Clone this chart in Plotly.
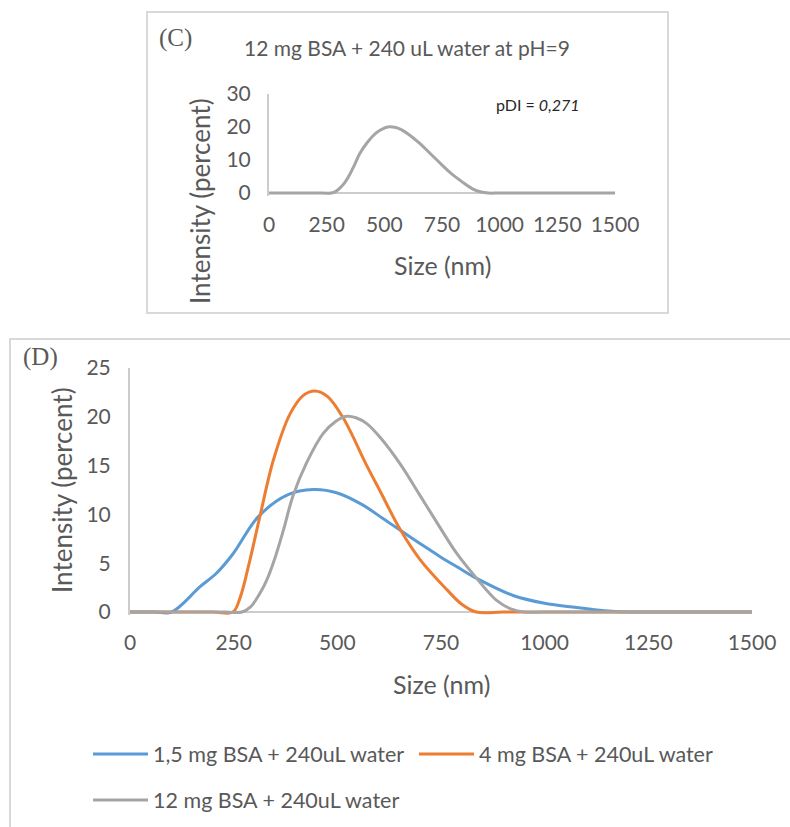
import plotly.graph_objects as go

# ---------------- data ----------------
size_ticks = [0, 250, 500, 750, 1000, 1250, 1500]
c_y_ticks = [0, 10, 20, 30]
d_y_ticks = [0, 5, 10, 15, 20, 25]

blue_name = "1,5 mg BSA + 240uL water"
blue_size = [0, 60, 100, 169, 209, 249, 309, 380, 442, 500, 560, 611, 651, 700, 747, 790,
             836, 924, 1000, 1061, 1170, 1250, 1500]
blue_int = [0, 0, 0, 2.6, 4.0, 6.0, 9.75, 12.0, 12.55, 12.2, 11.0, 9.55, 8.4, 7.0, 5.7, 4.6,
            3.45, 1.7, 0.9, 0.55, 0.05, 0, 0]

orange_name = "4 mg BSA + 240uL water"
orange_size = [0, 200, 248, 265, 289, 313, 346, 386, 418, 446, 476, 514, 571, 603, 651, 699,
               764, 800, 835, 900, 1000, 1500]
orange_int = [0, 0, 0, 1.4, 5.3, 9.75, 15.6, 20.3, 22.2, 22.65, 22.1, 19.9, 15.0, 12.4, 8.5, 5.4,
              2.3, 0.8, 0, 0, 0, 0]

gray_name = "12 mg BSA + 240uL water"
gray_size = [0, 230, 270, 290, 313, 330, 350, 370, 393, 426, 466, 495, 522, 545, 571, 603, 651,
             700, 747, 788, 836, 884, 920, 950, 1000, 1200, 1500]
gray_int = [0, 0, 0, 0.5, 1.9, 3.3, 5.6, 8.4, 11.9, 15.3, 18.3, 19.5, 20.05, 19.9, 19.3, 17.9, 15.2,
            11.9, 8.7, 6.0, 3.45, 1.2, 0.3, 0, 0, 0, 0]

# panel C (pH = 9) curve
c_size = gray_size
c_int = gray_int

# ---------------- style ----------------
W, H = 790, 827
BLUE, ORANGE, GRAY = "#5B9BD5", "#ED7D31", "#A5A5A5"
TXT = "#595959"
AXC = "#CCCCCC"
FONT = "Lato"


def px(x):
    return x / W


def py(y):
    return 1 - y / H


fig = go.Figure()

line_kw = dict(mode="lines", line_shape="spline", hoverinfo="skip")
SM = 1.0

fig.add_trace(go.Scatter(x=c_size, y=c_int, xaxis="x", yaxis="y", showlegend=False,
                         line=dict(color=GRAY, width=3, smoothing=SM), **line_kw))
fig.add_trace(go.Scatter(x=blue_size, y=blue_int, xaxis="x2", yaxis="y2", name=blue_name,
                         legend="legend", line=dict(color=BLUE, width=3, smoothing=SM), **line_kw))
fig.add_trace(go.Scatter(x=orange_size, y=orange_int, xaxis="x2", yaxis="y2", name=orange_name,
                         legend="legend2", line=dict(color=ORANGE, width=3, smoothing=SM), **line_kw))
fig.add_trace(go.Scatter(x=gray_size, y=gray_int, xaxis="x2", yaxis="y2", name=gray_name,
                         legend="legend3", line=dict(color=GRAY, width=3, smoothing=SM), **line_kw))

tick_font = dict(family=FONT, size=21, color=TXT)

xax_common = dict(range=[0, 1500], tickvals=size_ticks, showgrid=False, zeroline=False,
                  showline=False, ticks="", tickfont=tick_font, fixedrange=True)
yax_common = dict(showgrid=False, zeroline=True, zerolinecolor=AXC, zerolinewidth=2,
                  showline=True, linecolor=AXC, linewidth=2, ticks="", tickfont=tick_font,
                  fixedrange=True)

# panel C: 0 at y=193, 30 at y=94 -> 3.3 px/unit
fig.update_layout(
    xaxis=dict(domain=[px(269), px(615)], anchor="y", ticklabelstandoff=14, **xax_common),
    yaxis=dict(domain=[py(196), py(94)], anchor="x", range=[-0.9, 30], tickvals=c_y_ticks,
               ticklabelstandoff=12, **yax_common),
    xaxis2=dict(domain=[px(130), px(752)], anchor="y2", ticklabelstandoff=13, **xax_common),
    yaxis2=dict(domain=[py(615), py(368)], anchor="x2", range=[-0.3, 25], tickvals=d_y_ticks,
                ticklabelstandoff=13, **yax_common),
)

leg_common = dict(orientation="h", font=dict(family=FONT, size=21.5, color=TXT),
                  bgcolor="rgba(0,0,0,0)", borderwidth=0, itemwidth=55,
                  xanchor="left", yanchor="middle", itemclick=False, itemdoubleclick=False)
fig.update_layout(
    legend=dict(x=px(88), y=py(754), **leg_common),
    legend2=dict(x=px(414), y=py(754), **leg_common),
    legend3=dict(x=px(88), y=py(800), **leg_common),
)

ann = []


def add_text(text, x, y, size, color=TXT, family=FONT, angle=0):
    ann.append(dict(text=text, x=px(x), y=py(y), xref="paper", yref="paper", showarrow=False,
                    xanchor="center", yanchor="middle", textangle=angle,
                    font=dict(family=family, size=size, color=color)))


add_text("(C)", 175, 38, 25, family="Liberation Serif")
add_text("12 mg BSA + 240 uL water at pH=9", 407, 47, 21)
add_text("pDI = <i>0,271</i>", 538, 105, 16, color="#262626")
add_text("Intensity (percent)", 200, 201, 26, angle=-90)
add_text("Size (nm)", 442, 265, 25)

add_text("(D)", 40, 357, 25, family="Liberation Serif")
add_text("Intensity (percent)", 62, 490, 26, angle=-90)
add_text("Size (nm)", 441, 684, 25)

shapes = [
    dict(type="rect", xref="paper", yref="paper", x0=px(147), x1=px(668), y0=py(313), y1=py(12),
         line=dict(color="#D9D9D9", width=2), layer="below"),
    dict(type="rect", xref="paper", yref="paper", x0=px(10), x1=px(830), y0=py(870), y1=py(339),
         line=dict(color="#D9D9D9", width=2), layer="below"),
]

fig.update_layout(width=W, height=H, margin=dict(l=0, r=0, t=0, b=0, pad=0, autoexpand=False),
                  autosize=False, paper_bgcolor="white", plot_bgcolor="white",
                  annotations=ann, shapes=shapes, font=dict(family=FONT, color=TXT))

fig.write_html("out.html", config={"displayModeBar": False},
               post_script="document.body.style.margin='0';document.body.style.overflow='hidden';")
